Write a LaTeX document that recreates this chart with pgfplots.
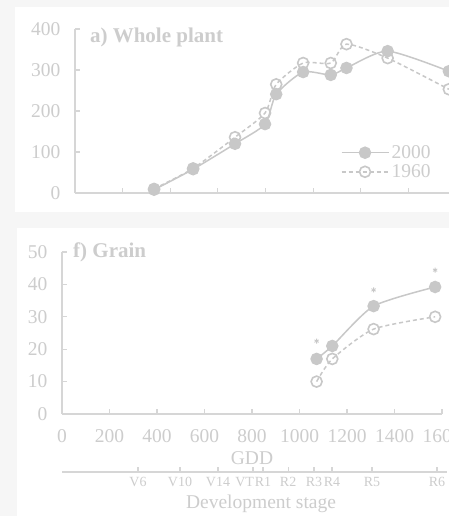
\documentclass[border=0pt]{standalone}
\usepackage{fontspec}
\setmainfont{Liberation Serif}
\usepackage{pgfplots}
\pgfplotsset{compat=1.18}
\definecolor{mk}{RGB}{200,200,200}
\definecolor{tx}{RGB}{205,205,205}
\definecolor{axc}{RGB}{214,214,214}
\definecolor{bgc}{RGB}{246,246,246}
\newcommand{\tickfont}{\fontsize{19.5}{20}\selectfont}
\pgfplotsset{
  common/.style={
    scale only axis,
    axis x line=bottom, axis y line=left,
    axis line style={axc, line width=1.2pt, -},
    tick style={axc, line width=1.2pt},
    tick align=inside,
    major tick length=5pt,
    tick label style={font=\tickfont, text=tx},
    /pgf/number format/assume math mode=true,
    /pgf/number format/1000 sep={},
    yticklabel style={xshift=-11pt},
    xticklabel style={yshift=-12pt},
    xmin=0, xmax=1600,
    xtick={0,200,...,1600},
    clip=false,
  },
  s2000/.style={mk, line width=1.5pt, smooth, tension=0.4, mark=*, mark size=5.5pt, mark options={solid, fill=mk, draw=mk}},
  s1960/.style={mk, line width=1.5pt, dash pattern=on 4pt off 3pt, smooth, tension=0.4, mark=o, mark size=5.5pt, mark options={solid, fill=white, draw=mk, line width=1.6pt}},
}
\begin{document}
\begin{tikzpicture}
\fill[bgc] (0pt,0pt) rectangle (449pt,516pt);
\fill[white] (15pt,304pt) rectangle (449pt,509pt);
\fill[white] (17pt,0pt) rectangle (449pt,288pt);

% a) Whole plant
\begin{axis}[common, at={(75pt,323pt)}, anchor=south west, width=381pt, height=164pt,
  ymin=0, ymax=400, ytick={0,100,200,300,400}, xticklabels={,,,,,,,,},
  legend cell align=left,
  legend style={draw=none, fill=none, inner sep=0pt, at={(rel axis cs:0.697,0.305)}, anchor=north west,
    nodes={inner sep=2.3pt, text=tx, font=\tickfont}, row sep=0pt},
  legend image code/.code={\draw[#1, mark repeat=2, mark phase=2] plot coordinates {(0pt,0pt) (23.5pt,0pt) (47pt,0pt)};}]
\addplot[s2000] coordinates {(332,8) (496,58) (672,120) (798,168) (845,241) (958,295) (1074,288) (1140,305) (1313,346) (1570,297)};
\addlegendentry{2000}
\addplot[s1960] coordinates {(332,10) (496,60) (672,136) (798,195) (845,265) (958,317) (1074,317) (1140,363) (1313,329) (1570,253)};
\addlegendentry{1960}
\node[anchor=west, font=\fontsize{21}{22}\selectfont\bfseries, text=tx, inner sep=0pt] at (rel axis cs:0.039,0.951) {a) Whole plant};
\end{axis}

% f) Grain
\begin{axis}[common, at={(62pt,102pt)}, anchor=south west, width=380pt, height=162pt,
  ymin=0, ymax=50, ytick={0,10,20,30,40,50},
  xlabel={GDD}, xlabel style={at={(axis description cs:0.5,0)}, anchor=center, yshift=-44pt, font=\tickfont, text=tx}]
\addplot[s2000] coordinates {(1072,17) (1138,21) (1312,33.3) (1571,39.2)};
\addplot[s1960] coordinates {(1072,10) (1138,17) (1312,26.2) (1571,30)};
\addplot[only marks, mark=asterisk, mark size=2.5pt, mk, line width=0.8pt] coordinates {(1072,22.5) (1312,38.3) (1571,44.4)};
\node[anchor=west, font=\fontsize{21}{22}\selectfont\bfseries, text=tx, inner sep=0pt] at (rel axis cs:0.029,1.0) {f) Grain};
\end{axis}

% Development stage axis
\begin{axis}[scale only axis, at={(62pt,44pt)}, anchor=south west, width=385pt, height=10pt,
  xmin=0, xmax=1621, ymin=0, ymax=1,
  axis x line=bottom, axis y line=none,
  axis line style={axc, line width=1.2pt, -},
  tick style={axc, line width=1.2pt}, tick align=inside, major tick length=5pt,
  xtick={320,497,657,804,846,952,1061,1137,1305,1579},
  xticklabels={V6,V10,V14,\makebox[0pt][r]{VT\hspace{-1pt}},R1,R2,R3,R4,R5,R6},
  xticklabel style={font=\fontsize{14}{15}\selectfont, text=tx, yshift=-1.5pt},
  xlabel={Development stage},
  xlabel style={at={(axis description cs:0.517,0)}, anchor=center, yshift=-32pt, font=\tickfont, text=tx}]
\addplot[draw=none, forget plot] coordinates {(0,0)};
\end{axis}

\pgfresetboundingbox
\useasboundingbox (0pt,0pt) rectangle (449pt,516pt);
\end{tikzpicture}
\end{document}
